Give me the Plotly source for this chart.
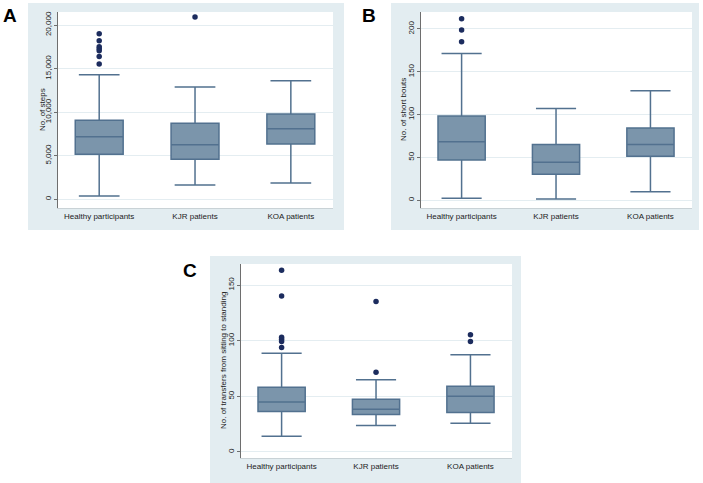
import plotly.graph_objects as go

W, H = 703, 483

categories = ["Healthy participants", "KJR patients", "KOA patients"]

# Panel A: No. of steps
steps_low = [380, 1640, 1870]
steps_q1 = [5160, 4590, 6350]
steps_med = [7190, 6270, 8110]
steps_q3 = [9060, 8720, 9790]
steps_high = [14300, 12890, 13610]
steps_out_cat = ["Healthy participants"] * 7 + ["KJR patients"]
steps_out_val = [19000, 18200, 17500, 17280, 17050, 16400, 15530, 20920]
steps_ticks = [0, 5000, 10000, 15000, 20000]
steps_ticktext = ["0", "5,000", "10,000", "15,000", "20,000"]

# Panel B: No. of short bouts
bouts_low = [2.3, 1.6, 10.1]
bouts_q1 = [47, 30.3, 51.3]
bouts_med = [68.3, 44.3, 65.2]
bouts_q3 = [98.3, 65.2, 84.3]
bouts_high = [171.3, 107.2, 127.8]
bouts_out_cat = ["Healthy participants"] * 3
bouts_out_val = [212, 198.8, 185.2]
bouts_ticks = [0, 50, 100, 150, 200]

# Panel C: No. of transfers from sitting to standing
trans_low = [14.1, 23.7, 25.8]
trans_q1 = [36.3, 33.6, 35.4]
trans_med = [45, 38.4, 50.1]
trans_q3 = [58.2, 47.4, 59.1]
trans_high = [88.8, 64.8, 87.3]
trans_out_cat = (["Healthy participants"] * 6 + ["KJR patients"] * 2
                 + ["KOA patients"] * 2)
trans_out_val = [163.2, 140.1, 103.2, 101.4, 99.3, 93.9, 71.7, 135.3, 105.3, 99.3]
trans_ticks = [0, 50, 100, 150]

BOX_FILL = "#7b95ab"
BOX_LINE = "#52718f"
OUT_COL = "#1c2c5e"
BG = "#e3edf1"
GRID = "#e4edf1"
FONT = "Liberation Sans, Arial, sans-serif"
TXT = "#222222"


def px_x(p):
    return p / W


def px_y(p):
    return 1 - p / H


panels = [
    dict(key="", low=steps_low, q1=steps_q1, med=steps_med, q3=steps_q3, high=steps_high,
         oc=steps_out_cat, ov=steps_out_val, ticks=steps_ticks, ticktext=steps_ticktext,
         yr=[-1000, 21500], plot=(58, 333, 12, 208), bg=(28, 344, 3, 230),
         title="No. of steps", tx=42, label="A", lx=10, ly=16),
    dict(key="2", low=bouts_low, q1=bouts_q1, med=bouts_med, q3=bouts_q3, high=bouts_high,
         oc=bouts_out_cat, ov=bouts_out_val, ticks=bouts_ticks,
         ticktext=[str(t) for t in bouts_ticks],
         yr=[-9, 219.8], plot=(421, 692, 12, 208), bg=(391, 699, 3, 230),
         title="No. of short bouts", tx=403, label="B", lx=369, ly=16),
    dict(key="3", low=trans_low, q1=trans_q1, med=trans_med, q3=trans_q3, high=trans_high,
         oc=trans_out_cat, ov=trans_out_val, ticks=trans_ticks,
         ticktext=[str(t) for t in trans_ticks],
         yr=[-5.4, 168.9], plot=(241, 512, 264, 458), bg=(210, 521, 256, 483),
         title="No. of transfers from sitting to standing", tx=223, label="C", lx=190, ly=270),
]

fig = go.Figure()
shapes = []
annotations = []
layout = {}

for p in panels:
    k = p["key"]
    xa = "x" + k
    ya = "y" + k
    fig.add_trace(go.Box(
        x=categories, q1=p["q1"], median=p["med"], q3=p["q3"],
        lowerfence=p["low"], upperfence=p["high"],
        xaxis=xa, yaxis=ya, width=0.5, whiskerwidth=0.85,
        fillcolor=BOX_FILL, line=dict(color=BOX_LINE, width=1.5),
        boxpoints=False, showlegend=False, hoverinfo="skip",
    ))
    fig.add_trace(go.Scatter(
        x=p["oc"], y=p["ov"], mode="markers", xaxis=xa, yaxis=ya,
        marker=dict(color=OUT_COL, size=5.5), showlegend=False, hoverinfo="skip",
    ))
    x0, x1, y0, y1 = p["plot"]
    bx0, bx1, by0, by1 = p["bg"]
    shapes.append(dict(type="rect", xref="paper", yref="paper",
                       x0=px_x(bx0), x1=px_x(bx1), y0=px_y(by1), y1=px_y(by0),
                       fillcolor=BG, line=dict(width=0), layer="below"))
    shapes.append(dict(type="rect", xref="paper", yref="paper",
                       x0=px_x(x0), x1=px_x(x1), y0=px_y(y1), y1=px_y(y0),
                       fillcolor="white", line=dict(width=0), layer="below"))
    layout["xaxis" + k] = dict(
        domain=[px_x(x0), px_x(x1)], anchor=ya, type="category",
        categoryorder="array", categoryarray=categories,
        range=[-0.43, 2.44], showgrid=False, zeroline=False,
        showline=True, linecolor="#c9d2d6", linewidth=1, ticks="",
        tickfont=dict(family=FONT, size=8, color=TXT), fixedrange=True,
    )
    layout["yaxis" + k] = dict(
        domain=[px_y(y1), px_y(y0)], anchor=xa, range=p["yr"],
        tickvals=p["ticks"], ticktext=p["ticktext"], tickangle=-90,
        showgrid=True, gridcolor=GRID, gridwidth=1, zeroline=False,
        showline=True, linecolor="#6e6e6e", linewidth=1,
        ticks="outside", ticklen=3, tickcolor="#6e6e6e",
        tickfont=dict(family=FONT, size=8, color=TXT), fixedrange=True,
    )
    annotations.append(dict(
        text=p["title"], xref="paper", yref="paper", x=px_x(p["tx"]),
        y=px_y((y0 + y1) / 2), showarrow=False, textangle=-90,
        font=dict(family=FONT, size=8, color=TXT), xanchor="center", yanchor="middle",
    ))
    annotations.append(dict(
        text="<b>" + p["label"] + "</b>", xref="paper", yref="paper",
        x=px_x(p["lx"]), y=px_y(p["ly"]), showarrow=False,
        font=dict(family=FONT, size=19, color="#000000"),
        xanchor="center", yanchor="middle",
    ))

fig.update_layout(
    width=W, height=H, margin=dict(l=0, r=0, t=0, b=0),
    paper_bgcolor="white", plot_bgcolor="rgba(0,0,0,0)",
    shapes=shapes, annotations=annotations, showlegend=False,
    **layout,
)

fig.write_html("out.html", config={"displayModeBar": False},
               post_script="document.body.style.margin='0px';document.body.style.overflow='hidden';")
